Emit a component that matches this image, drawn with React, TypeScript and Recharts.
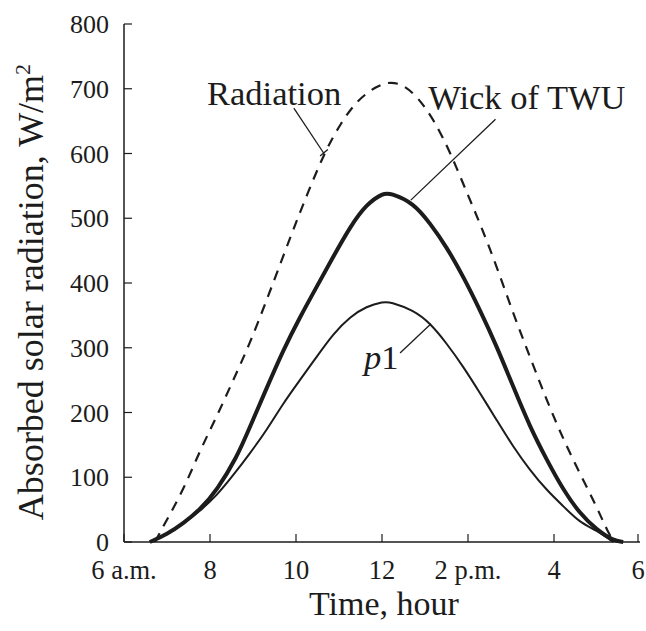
import React from "react";
import {
  LineChart,
  Line,
  XAxis,
  YAxis,
  ReferenceLine,
  ReferenceDot,
} from "recharts";

// hours of day (6 = 6 a.m., 18 = 6 p.m.) and W/m2
const radiationHours = [6.72, 6.91, 7.38, 7.77, 8.16, 8.54, 8.93, 9.32, 9.7, 10.02, 10.25, 10.65, 11.04, 11.43, 11.89, 12.2, 12.5, 12.82, 13.21, 13.6, 13.97, 14.28, 14.67, 15.05, 15.44, 15.83, 16.22, 16.6, 16.99, 17.3, 17.42];
const radiation = [0, 24, 80, 142, 194, 250, 307, 374, 441, 497, 535, 600, 647, 683, 705, 711, 706, 688, 652, 600, 540, 492, 425, 353, 286, 219, 158, 106, 55, 8, 0];

const wickHours = [6.6, 7.0, 7.38, 7.77, 8.16, 8.62, 8.93, 9.32, 9.7, 10.09, 10.48, 10.87, 11.26, 11.64, 12.03, 12.19, 12.73, 13.12, 13.5, 13.89, 14.28, 14.67, 15.05, 15.44, 15.83, 16.22, 16.6, 16.99, 17.38, 17.61];
const wick = [0, 12, 29, 50, 80, 130, 178, 238, 296, 347, 394, 441, 487, 522, 539, 539, 524, 492, 456, 410, 358, 302, 240, 178, 127, 80, 44, 19, 2, 0];

const p1Hours = [6.6, 7.0, 7.38, 7.77, 8.16, 8.54, 8.93, 9.32, 9.7, 10.09, 10.48, 10.87, 11.26, 11.64, 12.03, 12.19, 12.73, 13.12, 13.5, 13.89, 14.28, 14.67, 15.05, 15.44, 15.83, 16.22, 16.6, 16.99, 17.38];
const p1 = [0, 12, 28, 48, 72, 103, 137, 173, 214, 250, 286, 322, 348, 364, 371, 371, 358, 338, 307, 271, 230, 188, 147, 111, 80, 55, 30, 18, 0];

const xTicks = [6, 8, 10, 12, 14, 16, 18];
const xTickLabels = ["6 a.m.", "8", "10", "12", "2 p.m.", "4", "6"];
const yTicks = [0, 100, 200, 300, 400, 500, 600, 700, 800];

const toRows = (hours: number[], vals: number[]) =>
  hours.map((h, i) => ({ h, v: vals[i] }));

const INK = "#1c1c1c";
const FONT = "'Liberation Serif', 'Times New Roman', serif";
const TICK = 8;

const BottomTick = (p: any) => {
  const i = xTicks.indexOf(p.payload.value);
  return (
    <g>
      <line x1={p.x} y1={p.y} x2={p.x} y2={p.y - TICK} stroke={INK} strokeWidth={1.2} />
      <text x={p.x} y={p.y + 37} textAnchor="middle" fontSize={26.5} fontFamily={FONT} fill={INK}>
        {xTickLabels[i]}
      </text>
    </g>
  );
};

const LeftTick = (p: any) => (
  <g>
    <line x1={p.x} y1={p.y} x2={p.x + TICK} y2={p.y} stroke={INK} strokeWidth={1.2} />
    <text x={p.x - 15} y={p.y + 9} textAnchor="end" fontSize={26} fontFamily={FONT} fill={INK}>
      {p.payload.value}
    </text>
  </g>
);

const TopTick = (p: any) => (
  <line x1={p.x} y1={p.y} x2={p.x} y2={p.y + TICK} stroke={INK} strokeWidth={1.2} />
);

const RightTick = (p: any) => (
  <line x1={p.x} y1={p.y} x2={p.x - TICK} y2={p.y} stroke={INK} strokeWidth={1.2} />
);

const XTitle = (p: any) => {
  const vb = p.viewBox;
  return (
    <text x={vb.x + vb.width / 2 + 2} y={vb.y + 73} textAnchor="middle" fontSize={34} fontFamily={FONT} fill={INK}>
      Time, hour
    </text>
  );
};

const YTitle = (p: any) => {
  const vb = p.viewBox;
  const cx = vb.x + 43;
  const cy = vb.y + vb.height / 2 + 9;
  return (
    <text x={cx} y={cy} transform={`rotate(-90 ${cx} ${cy})`} textAnchor="middle" fontSize={36} fontFamily={FONT} fill={INK}>
      Absorbed solar radiation, W/m
      <tspan dy={-13} fontSize={22}>2</tspan>
    </text>
  );
};

const note = (text: React.ReactNode) => (p: any) => {
  const vb = p.viewBox;
  return (
    <text x={vb.x} y={vb.y + 12} textAnchor="middle" fontSize={34.5} fontFamily={FONT} fill={INK}>
      {text}
    </text>
  );
};

export default function App() {
  return (
    <div style={{ position: "absolute", left: 0, top: 0, background: "#fff" }}>
      <LineChart width={646} height={631} margin={{ top: 24, right: 6, bottom: 0, left: 0 }}>
        <XAxis
          xAxisId="b"
          type="number"
          dataKey="h"
          domain={[6, 18]}
          ticks={xTicks}
          height={89}
          tickSize={0}
          tickMargin={0}
          tick={<BottomTick />}
          tickLine={false}
          axisLine={{ stroke: INK, strokeWidth: 1.5 }}
          label={<XTitle />}
          allowDataOverflow
        />
        <XAxis
          xAxisId="t"
          orientation="top"
          type="number"
          dataKey="h"
          domain={[6, 18]}
          ticks={xTicks}
          height={0}
          tickSize={0}
          tickMargin={0}
          tick={<TopTick />}
          tickLine={false}
          axisLine={{ stroke: INK, strokeWidth: 1.5 }}
        />
        <YAxis
          yAxisId="l"
          type="number"
          domain={[0, 800]}
          ticks={yTicks}
          width={124}
          tickSize={0}
          tickMargin={0}
          tick={<LeftTick />}
          tickLine={false}
          axisLine={{ stroke: INK, strokeWidth: 1.5 }}
          label={<YTitle />}
        />
        <YAxis
          yAxisId="r"
          orientation="right"
          type="number"
          domain={[0, 800]}
          ticks={yTicks}
          width={0}
          tickSize={0}
          tickMargin={0}
          tick={<RightTick />}
          tickLine={false}
          axisLine={{ stroke: INK, strokeWidth: 1.5 }}
        />

        <Line
          xAxisId="b"
          yAxisId="l"
          data={toRows(radiationHours, radiation)}
          dataKey="v"
          type="basis"
          stroke={INK}
          strokeWidth={2.2}
          strokeDasharray="10 8"
          dot={false}
          isAnimationActive={false}
        />
        <Line
          xAxisId="b"
          yAxisId="l"
          data={toRows(p1Hours, p1)}
          dataKey="v"
          type="basis"
          stroke={INK}
          strokeWidth={2}
          dot={false}
          isAnimationActive={false}
        />
        <Line
          xAxisId="b"
          yAxisId="l"
          data={toRows(wickHours, wick)}
          dataKey="v"
          type="basis"
          stroke={INK}
          strokeWidth={4}
          dot={false}
          isAnimationActive={false}
        />

        {/* leader lines */}
        <ReferenceLine xAxisId="b" yAxisId="l" segment={[{ x: 9.95, y: 670 }, { x: 10.65, y: 600 }]} stroke={INK} strokeWidth={1.3} />
        <ReferenceLine xAxisId="b" yAxisId="l" segment={[{ x: 10.56, y: 596 }, { x: 10.74, y: 606 }]} stroke={INK} strokeWidth={1.3} />
        <ReferenceLine xAxisId="b" yAxisId="l" segment={[{ x: 14.64, y: 653 }, { x: 12.67, y: 528 }]} stroke={INK} strokeWidth={1.3} />
        <ReferenceLine xAxisId="b" yAxisId="l" segment={[{ x: 12.42, y: 292 }, { x: 13.14, y: 337 }]} stroke={INK} strokeWidth={1.3} />

        {/* curve names */}
        <ReferenceDot xAxisId="b" yAxisId="l" x={9.49} y={693} r={0} stroke="none" label={note("Radiation")} />
        <ReferenceDot xAxisId="b" yAxisId="l" x={15.37} y={687} r={0} stroke="none" label={note("Wick of TWU")} />
        <ReferenceDot
          xAxisId="b"
          yAxisId="l"
          x={11.98}
          y={286}
          r={0}
          stroke="none"
          label={note(
            <>
              <tspan fontStyle="italic">p</tspan>1
            </>
          )}
        />
      </LineChart>
    </div>
  );
}
